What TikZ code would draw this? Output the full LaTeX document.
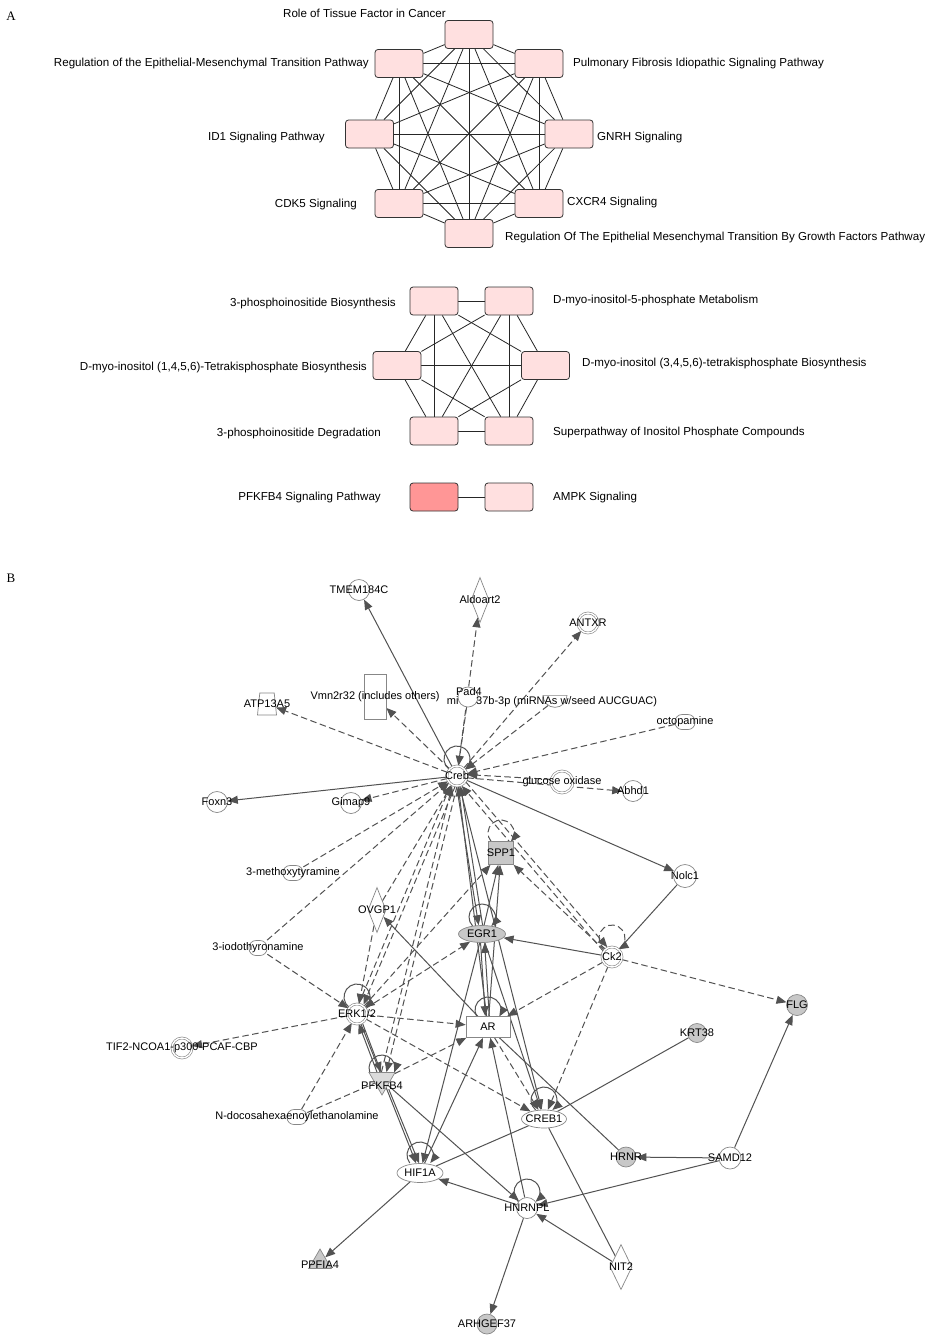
\documentclass[tikz,border=0pt]{standalone}
\usepackage{fontspec}
\setmainfont{Liberation Sans}
\newfontfamily\serifA{Liberation Serif}
\usetikzlibrary{arrows.meta,shapes.geometric}
\pgfdeclarelayer{back}
\pgfdeclarelayer{bg}
\pgfsetlayers{back,bg,main}
\definecolor{pinkbox}{RGB}{255,224,224}
\definecolor{redbox}{RGB}{255,150,150}
\definecolor{edgec}{RGB}{82,82,82}
\definecolor{bordc}{RGB}{135,135,135}
\definecolor{grayf}{RGB}{200,200,200}
\newcommand\gn[5]{\node[#2] (#1) at (#3,-#4) {}; \node[lbl] (#1t) at (#3,-#4) {#5};}
\newcommand\sloop[4]{\draw[#1] ([shift={({-13*cos(#4)},{#3-13*sin(#4)})}]#2.center) arc[start angle={180+#4}, end angle={-#4}, radius=13];}
\begin{document}
\begin{tikzpicture}[x=1pt,y=1pt,
 pbox/.style={draw=black!80, fill=pinkbox, rounded corners=3pt, minimum width=48pt, minimum height=28pt, inner sep=0, line width=0.8pt},
 atext/.style={font=\fontsize{11.6}{13}\selectfont, inner sep=0},
 aedge/.style={draw=black!85, line width=0.8pt},
 lbl/.style={font=\fontsize{11}{12}\selectfont, inner sep=0},
 base/.style={draw=bordc, fill=white, line width=0.7pt, inner sep=0},
 gc/.style={base, circle, minimum size=21pt},
 gcg/.style={gc, fill=grayf},
 dc/.style={base, circle, double=white, double distance=1.4pt, line width=0.6pt, minimum size=20pt},
 ell/.style={base, ellipse, minimum width=46pt, minimum height=19pt},
 ellg/.style={ell, fill=grayf, minimum width=47pt, minimum height=17pt},
 chem/.style={base, rectangle, rounded corners=7pt, minimum width=20pt, minimum height=15pt},
 dia/.style={base, diamond, minimum width=18pt, minimum height=45pt},
 vrect/.style={base, rectangle, minimum width=22pt, minimum height=45pt},
 arrect/.style={base, rectangle, minimum width=44pt, minimum height=21pt},
 sq/.style={base, rectangle, fill=grayf, minimum width=25pt, minimum height=23pt},
 trap/.style={base, trapezium, inner sep=1pt, trapezium stretches=true, trapezium left angle=81, trapezium right angle=81, minimum width=19pt, minimum height=22pt},
 triD/.style={base, regular polygon, regular polygon sides=3, shape border rotate=180, fill=grayf!65, minimum size=30pt},
 triU/.style={base, regular polygon, regular polygon sides=3, fill=grayf, minimum size=26pt},
 semi/.style={base, semicircle, shape border rotate=180, minimum width=24pt},
 ln/.style={draw=edgec, line width=1pt},
 ar/.style={ln, -{Triangle[length=10pt,width=8pt]}},
 da/.style={ar, dash pattern=on 6.5pt off 3.5pt},
 dl/.style={ln, dash pattern=on 6.5pt off 3.5pt},
]
\begin{pgfonlayer}{back}
\fill[white] (0,0) rectangle (931,-1339);
\end{pgfonlayer}
\useasboundingbox (0,0) rectangle (931,-1339);

% ---------- Panel labels
\node[font=\serifA\fontsize{13}{14}\selectfont, inner sep=0] (lblA) at (11,-16) {A};
\node[font=\serifA\fontsize{13}{14}\selectfont, inner sep=0] (lblB) at (11,-578) {B};

% ---------- Panel A, group 1
\node[pbox] (a1) at (469,-34.5) {};
\node[pbox] (a2) at (399,-63.5) {};
\node[pbox] (a3) at (539,-63.5) {};
\node[pbox] (a4) at (369.5,-134) {};
\node[pbox] (a5) at (569,-134) {};
\node[pbox] (a6) at (399,-203.5) {};
\node[pbox] (a7) at (539,-203.5) {};
\node[pbox] (a8) at (469,-233.5) {};
\node[atext, anchor=east] (a1t) at (446,-13) {Role of Tissue Factor in Cancer};
\node[atext, anchor=east] (a2t) at (369,-63) {Regulation of the Epithelial-Mesenchymal Transition Pathway};
\node[atext, anchor=west] (a3t) at (573,-63) {Pulmonary Fibrosis Idiopathic Signaling Pathway};
\node[atext, anchor=east] (a4t) at (325,-137) {ID1 Signaling Pathway};
\node[atext, anchor=west] (a5t) at (597,-137) {GNRH Signaling};
\node[atext, anchor=east] (a6t) at (357,-204) {CDK5 Signaling};
\node[atext, anchor=west] (a7t) at (567,-202) {CXCR4 Signaling};
\node[atext, anchor=west] (a8t) at (505,-237) {Regulation Of The Epithelial Mesenchymal Transition By Growth Factors Pathway};

% ---------- Panel A, group 2
\node[pbox] (b1) at (434,-301) {};
\node[pbox] (b2) at (509,-301) {};
\node[pbox] (b3) at (397,-365.5) {};
\node[pbox] (b4) at (545.5,-365.5) {};
\node[pbox] (b5) at (434,-431) {};
\node[pbox] (b6) at (509,-431) {};
\node[atext, anchor=east] (b1t) at (396,-303) {3-phosphoinositide Biosynthesis};
\node[atext, anchor=west] (b2t) at (553,-300) {D-myo-inositol-5-phosphate Metabolism};
\node[atext, anchor=east] (b3t) at (367,-367) {D-myo-inositol (1,4,5,6)-Tetrakisphosphate Biosynthesis};
\node[atext, anchor=west] (b4t) at (582,-363) {D-myo-inositol (3,4,5,6)-tetrakisphosphate Biosynthesis};
\node[atext, anchor=east] (b5t) at (381,-433) {3-phosphoinositide Degradation};
\node[atext, anchor=west] (b6t) at (553,-432) {Superpathway of Inositol Phosphate Compounds};

% ---------- Panel A, group 3
\node[pbox, fill=redbox] (c1) at (434,-497) {};
\node[pbox] (c2) at (509,-497) {};
\node[atext, anchor=east] (c1t) at (381,-497) {PFKFB4 Signaling Pathway};
\node[atext, anchor=west] (c2t) at (553,-497) {AMPK Signaling};

% ---------- Panel B nodes
\gn{tmem}{gc}{359}{590}{TMEM184C}
\gn{aldo}{dia}{480}{600}{Aldoart2}
\gn{antxr}{dc}{588}{623}{ANTXR}
\gn{vmn}{vrect}{375}{697}{Vmn2r32 (includes others)}
\node[gc, minimum size=20pt] (pad) at (468,-697) {};
\node[lbl] (padt) at (469,-692) {Pad4};
\node[semi, anchor=chord center] (mir) at (555,-695) {};
\node[lbl] (mirt) at (552,-702) {mi\hphantom{R-1}37b-3p (miRNAs w/seed AUCGUAC)};
\gn{atp}{trap}{267}{704}{ATP13A5}
\gn{octo}{chem}{685}{722}{octopamine}
\gn{creb}{dc}{457}{776}{Creb}
\gn{gox}{dc, minimum size=22pt}{562}{782}{glucose oxidase}
\gn{abhd}{gc}{633}{791}{Abhd1}
\gn{foxn}{gc}{217}{802}{Foxn3}
\gn{gimap}{gc}{351}{803}{Gimap9}
\gn{spp}{sq}{501}{853}{SPP1}
\gn{mtyr}{chem}{293}{873}{3-methoxytyramine}
\gn{nolc}{gc, minimum size=23pt}{685}{876}{Nolc1}
\gn{ovgp}{dia}{377}{910}{OVGP1}
\gn{egr}{ellg}{482}{934}{EGR1}
\gn{ithy}{chem, minimum width=18pt}{258}{948}{3-iodothyronamine}
\gn{ck}{dc}{612}{957}{Ck2}
\gn{flg}{gcg}{797}{1005}{FLG}
\gn{erk}{dc}{357}{1014}{ERK1/2}
\gn{arn}{arrect}{488}{1027}{AR}
\gn{tif}{dc}{182}{1048}{TIF2-NCOA1-p300-PCAF-CBP}
\gn{krt}{gcg, minimum size=19pt}{697}{1033}{KRT38}
\node[triD] (pfk) at (382,-1080) {};
\node[lbl] (pfkt) at (382,-1086) {PFKFB4};
\gn{ndoc}{chem}{297}{1117}{N-docosahexaenoylethanolamine}
\gn{crebone}{ell, minimum width=45pt, minimum height=18pt}{544}{1119}{CREB1}
\gn{hrnr}{gcg, minimum size=20pt}{626}{1157}{HRNR}
\gn{samd}{gc, minimum size=22pt}{730}{1158}{SAMD12}
\gn{hif}{ell}{420}{1173}{HIF1A}
\gn{hnr}{gc}{527}{1208}{HNRNPL}
\node[triU] (ppf) at (320,-1262) {};
\node[lbl] (ppft) at (320,-1265) {PPFIA4};
\gn{nit}{dia, minimum width=22pt}{621}{1267}{NIT2}
\gn{arh}{gcg, minimum size=20pt}{487}{1324}{ARHGEF37}

% ---------- connectors
\begin{pgfonlayer}{bg}
\foreach \i [evaluate=\i as \s using int(\i+1)] in {1,...,7}{\foreach \j in {\s,...,8}{\draw[aedge] (a\i) -- (a\j);}}
\foreach \i [evaluate=\i as \s using int(\i+1)] in {1,...,5}{\foreach \j in {\s,...,6}{\draw[aedge] (b\i) -- (b\j);}}
\draw[aedge] (c1) -- (c2);

% Creb hub
\draw[ar] (creb) -- (tmem);
\draw[da] (creb) -- (aldo);
\draw[da] (pad) -- (creb);
\draw[da] (creb) -- (antxr);
\draw[da] (creb) -- (vmn);
\draw[da] (creb) -- (atp);
\draw[da] (mir) -- (creb);
\draw[da] (octo) -- (creb);
\draw[da, transform canvas={yshift=2pt}] (gox) -- (creb);
\draw[da, transform canvas={yshift=-1pt}] (creb) -- (abhd);
\draw[ar] (creb) -- (foxn);
\draw[da] (creb) -- (gimap);
\draw[da] (mtyr) -- (creb);
\draw[da] (ithy) -- (creb);
\draw[ar] (creb) -- (nolc);
\draw[ln] (nolc) -- (ck);
\draw[da, transform canvas={xshift=2.5pt}] (creb) -- (erk);
\draw[da, transform canvas={xshift=-2.5pt}] (erk) -- (creb);
\draw[da] (ovgp) -- (creb);
\draw[da] (ovgp) -- (erk);
\draw[da, transform canvas={xshift=2.5pt}] (creb) -- (pfk);
\draw[da, transform canvas={xshift=-2.5pt}] (pfk) -- (creb);
\draw[ar, transform canvas={xshift=-2pt}] (creb) -- (egr);
\draw[ar, transform canvas={xshift=2pt}] (egr) -- (creb);
\draw[ar] (creb) -- (crebone);
\draw[ar] (arn) -- (creb);
\draw[da, transform canvas={shift={(2,2)}}] (creb) -- (ck);
\draw[da, transform canvas={shift={(-2,-2)}}] (ck) -- (creb);
\sloop{ar}{creb}{17}{54}

% SPP1, Ck2
\sloop{da}{spp}{20}{41}
\sloop{da}{ck}{19}{60}
\draw[da] (ck) -- (spp);
\draw[da] (erk) -- (spp);
\draw[ar] (egr) -- (spp);
\draw[ar] (arn) -- (spp);
\sloop{ar}{egr}{17}{44}
\draw[ar] (ck) -- (egr);
\draw[da] (erk) -- (egr);
\draw[da] (ck) -- (arn);
\draw[da] (ck) -- (crebone);
\draw[da] (ck) -- (flg);

% ERK1/2, PFKFB4, AR
\draw[ar] (arn) -- (ovgp);
\sloop{ar}{erk}{17}{54}
\draw[da] (erk) -- (arn);
\draw[ar, transform canvas={xshift=2pt}] (erk) -- (pfk);
\draw[ar, transform canvas={xshift=-2pt}] (pfk) -- (erk);
\draw[da] (erk) -- (crebone);
\draw[da] (erk) -- (tif);
\draw[da] (ithy) -- (erk);
\draw[da] (ndoc) -- (erk);
\draw[dl] (ndoc) -- (pfk);
\sloop{ar}{pfk}{12}{20}
\draw[da] (pfk) -- (arn);
\draw[ar] (erk) -- (hif);
\draw[ar, transform canvas={xshift=3pt}] (pfk) -- (hif);
\draw[ar] (pfk) -- (hnr);
\draw[ar, transform canvas={xshift=-2pt}] (egr) -- (arn);
\draw[ar, transform canvas={xshift=2pt}] (arn) -- (egr);
\sloop{ar}{arn}{17}{30}
\draw[da] (arn) -- (crebone);
\draw[ln] (arn) -- (hrnr);
\draw[ar] (egr) -- (crebone);
\draw[ar] (egr) -- (hif);
\draw[ar] (hif) -- (arn);
\draw[ar] (hnr) -- (arn);
\draw[ar] (hnr) -- (hif);
\draw[ln] (hif) -- (crebone);
\sloop{ar}{hif}{18}{38}
\sloop{ar}{crebone}{19}{50}
\sloop{ar}{hnr}{16}{49}
\draw[ar] (samd) -- (hnr);
\draw[ar] (nit) -- (hnr);
\draw[ln] (nit) -- (crebone);
\draw[ar] (hnr) -- (arh);
\draw[ar] (hif) -- (ppf);
\draw[ar] (samd) -- (hrnr);
\draw[ar] (samd) -- (flg);
\draw[ln] (krt) -- (crebone);
\end{pgfonlayer}
\end{tikzpicture}
\end{document}
